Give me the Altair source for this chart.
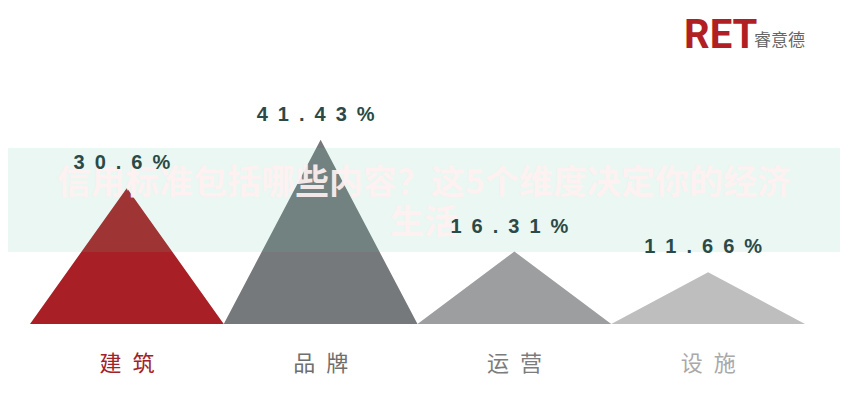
import altair as alt
import pandas as pd

categories = ["建筑", "品牌", "运营", "设施"]
values = [30.6, 41.43, 16.31, 11.66]
value_labels = ["30.6%", "41.43%", "16.31%", "11.66%"]
fill_colors = ["#a91f26", "#76797c", "#9d9ea0", "#bebebe"]
cat_colors = ["#a0222a", "#6e6e6e", "#7c7c7c", "#a9a9a9"]
watermark = "信用标准包括哪些内容？这5个维度决定你的经济\n生活"

SP = "\u2002"

# triangle outlines built from the values
rows = []
for i, (c, v) in enumerate(zip(categories, values)):
    for off, h in ((0.0, 0.0), (0.5, 1.0), (1.0, 0.0)):
        rows.append({"cat": c, "x": i + off, "y": v * h})
tri = pd.DataFrame(rows)

lab = pd.DataFrame({
    "cat": categories,
    "xc": [i + 0.5 for i in range(len(categories))],
    "v": values,
    "label": [SP.join(s) for s in value_labels],
    "catlabel": [SP.join(s) for s in categories],
})

xs = alt.Scale(domain=[0, 4], range=[22, 797], nice=False, zero=False)
ys = alt.Scale(domain=[0, 45], range=[316, 116], nice=False)
col = alt.Scale(domain=categories, range=fill_colors)
ccol = alt.Scale(domain=categories, range=cat_colors)

triangles = alt.Chart(tri).mark_area(opacity=1).encode(
    x=alt.X("x:Q", scale=xs, axis=None),
    y=alt.Y("y:Q", scale=ys, axis=None),
    color=alt.Color("cat:N", scale=col, legend=None),
)

band = alt.Chart(pd.DataFrame({"a": [0]})).mark_rect(
    color="#5ec29b", opacity=0.13
).encode(
    x=alt.value(-10), x2=alt.value(842), y=alt.value(140), y2=alt.value(244)
)

wm = alt.Chart(pd.DataFrame({"t": [watermark]})).mark_text(
    font="Noto Sans CJK SC", fontSize=34, fontWeight="bold", color="#fff1f1",
    opacity=0.92, lineBreak="\n", lineHeight=40, align="center", baseline="middle"
).encode(x=alt.value(416), y=alt.value(176), text="t:N")

vlabels = alt.Chart(lab).mark_text(
    font="Liberation Sans", fontSize=20, fontWeight="bold", color="#2b4a47",
    align="center", baseline="middle", dy=-25, dx=-5
).encode(
    x=alt.X("xc:Q", scale=xs),
    y=alt.Y("v:Q", scale=ys),
    text="label:N",
)

clabels = alt.Chart(lab).mark_text(
    font="Noto Sans CJK SC", fontSize=22, align="center", baseline="middle"
).encode(
    x=alt.X("xc:Q", scale=xs),
    y=alt.value(356),
    text="catlabel:N",
    color=alt.Color("cat:N", scale=ccol, legend=None),
)

logo1 = alt.Chart(pd.DataFrame({"t": ["RET"]})).mark_text(
    font="Roboto", fontSize=40, fontWeight="bold",
    color="#b01f24", align="left", baseline="alphabetic"
).encode(x=alt.value(676), y=alt.value(40), text="t:N")

logo2 = alt.Chart(pd.DataFrame({"t": ["睿意德"]})).mark_text(
    font="Noto Sans CJK SC", fontSize=17, color="#666666", align="left",
    baseline="alphabetic"
).encode(x=alt.value(746), y=alt.value(38), text="t:N")

chart = alt.layer(triangles, band, wm, vlabels, clabels, logo1, logo2).resolve_scale(
    color="independent"
).properties(
    width=832, height=384, autosize=alt.AutoSizeParams(type="none"), padding=0
).configure_view(stroke=None)

chart.save("out.html", embed_options={"renderer": "svg", "actions": False})
